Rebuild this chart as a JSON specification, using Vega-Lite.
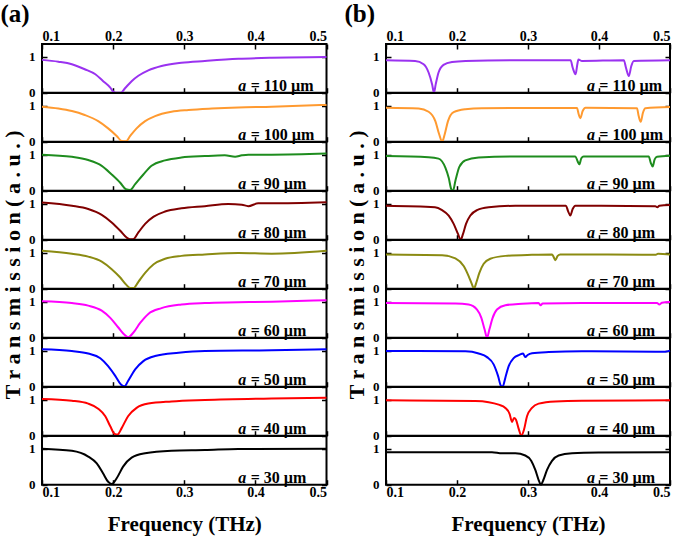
{
  "$schema": "https://vega.github.io/schema/vega-lite/v6.json",
  "padding": {"left": 0, "top": 2, "right": 0, "bottom": 2},
  "background": "white",
  "datasets": {
    "a110": [{"f":0.1,"t":0.91},{"f":0.123,"t":0.86},{"f":0.142,"t":0.79},{"f":0.16,"t":0.65},{"f":0.175,"t":0.51},{"f":0.186,"t":0.32},{"f":0.196,"t":0.14},{"f":0.2,"t":0.03},{"f":0.204,"t":0.0},{"f":0.211,"t":0.0},{"f":0.217,"t":0.13},{"f":0.226,"t":0.32},{"f":0.2355,"t":0.47},{"f":0.2495,"t":0.62},{"f":0.268,"t":0.74},{"f":0.296,"t":0.83},{"f":0.329,"t":0.88},{"f":0.376,"t":0.94},{"f":0.423,"t":0.97},{"f":0.5,"t":0.99}],
    "a100": [{"f":0.1,"t":0.97},{"f":0.123,"t":0.92},{"f":0.142,"t":0.85},{"f":0.16,"t":0.74},{"f":0.179,"t":0.57},{"f":0.193,"t":0.37},{"f":0.205,"t":0.16},{"f":0.212,"t":0.02},{"f":0.218,"t":0.01},{"f":0.224,"t":0.16},{"f":0.233,"t":0.37},{"f":0.245,"t":0.57},{"f":0.259,"t":0.71},{"f":0.282,"t":0.83},{"f":0.306,"t":0.88},{"f":0.339,"t":0.92},{"f":0.376,"t":0.95},{"f":0.423,"t":0.97},{"f":0.5,"t":1.02}],
    "a90": [{"f":0.1,"t":1.0},{"f":0.142,"t":0.94},{"f":0.165,"t":0.85},{"f":0.184,"t":0.69},{"f":0.198,"t":0.45},{"f":0.21,"t":0.22},{"f":0.218,"t":0.04},{"f":0.224,"t":0.02},{"f":0.231,"t":0.18},{"f":0.2425,"t":0.45},{"f":0.254,"t":0.69},{"f":0.273,"t":0.84},{"f":0.296,"t":0.92},{"f":0.329,"t":0.96},{"f":0.357,"t":0.98},{"f":0.3715,"t":0.94},{"f":0.381,"t":0.98},{"f":0.39,"t":1.0},{"f":0.423,"t":1.0},{"f":0.5,"t":1.03}],
    "a80": [{"f":0.1,"t":1.03},{"f":0.142,"t":0.94},{"f":0.165,"t":0.85},{"f":0.184,"t":0.69},{"f":0.198,"t":0.48},{"f":0.21,"t":0.25},{"f":0.219,"t":0.06},{"f":0.224,"t":0.01},{"f":0.228,"t":0.01},{"f":0.2355,"t":0.2},{"f":0.245,"t":0.44},{"f":0.257,"t":0.64},{"f":0.273,"t":0.78},{"f":0.296,"t":0.87},{"f":0.329,"t":0.93},{"f":0.362,"t":0.99},{"f":0.381,"t":0.97},{"f":0.39,"t":0.93},{"f":0.404,"t":1.01},{"f":0.423,"t":1.01},{"f":0.5,"t":1.04}],
    "a70": [{"f":0.1,"t":1.05},{"f":0.142,"t":0.97},{"f":0.165,"t":0.89},{"f":0.184,"t":0.75},{"f":0.198,"t":0.54},{"f":0.21,"t":0.31},{"f":0.218,"t":0.12},{"f":0.224,"t":0.02},{"f":0.229,"t":0.02},{"f":0.2355,"t":0.19},{"f":0.245,"t":0.44},{"f":0.257,"t":0.68},{"f":0.273,"t":0.83},{"f":0.296,"t":0.91},{"f":0.329,"t":0.95},{"f":0.376,"t":0.99},{"f":0.423,"t":0.97},{"f":0.5,"t":1.05}],
    "a60": [{"f":0.1,"t":1.01},{"f":0.142,"t":0.96},{"f":0.165,"t":0.89},{"f":0.184,"t":0.75},{"f":0.196,"t":0.55},{"f":0.207,"t":0.29},{"f":0.216,"t":0.08},{"f":0.221,"t":0.01},{"f":0.228,"t":0.13},{"f":0.238,"t":0.41},{"f":0.2495,"t":0.66},{"f":0.268,"t":0.82},{"f":0.296,"t":0.92},{"f":0.329,"t":0.96},{"f":0.376,"t":0.98},{"f":0.423,"t":1.0},{"f":0.5,"t":1.04}],
    "a50": [{"f":0.1,"t":1.04},{"f":0.142,"t":0.99},{"f":0.165,"t":0.92},{"f":0.182,"t":0.79},{"f":0.193,"t":0.57},{"f":0.203,"t":0.3},{"f":0.211,"t":0.06},{"f":0.216,"t":0.01},{"f":0.221,"t":0.16},{"f":0.231,"t":0.48},{"f":0.2425,"t":0.71},{"f":0.259,"t":0.85},{"f":0.292,"t":0.94},{"f":0.329,"t":0.99},{"f":0.423,"t":1.01},{"f":0.5,"t":1.04}],
    "a40": [{"f":0.1,"t":1.02},{"f":0.142,"t":0.97},{"f":0.165,"t":0.89},{"f":0.179,"t":0.75},{"f":0.189,"t":0.54},{"f":0.196,"t":0.26},{"f":0.202,"t":0.05},{"f":0.206,"t":0.03},{"f":0.212,"t":0.21},{"f":0.221,"t":0.54},{"f":0.233,"t":0.77},{"f":0.2495,"t":0.89},{"f":0.282,"t":0.95},{"f":0.329,"t":0.99},{"f":0.423,"t":1.03},{"f":0.5,"t":1.05}],
    "a30": [{"f":0.1,"t":1.0},{"f":0.142,"t":0.94},{"f":0.165,"t":0.78},{"f":0.177,"t":0.59},{"f":0.186,"t":0.31},{"f":0.193,"t":0.08},{"f":0.198,"t":0.02},{"f":0.205,"t":0.18},{"f":0.214,"t":0.5},{"f":0.226,"t":0.75},{"f":0.245,"t":0.87},{"f":0.282,"t":0.94},{"f":0.329,"t":0.96},{"f":0.376,"t":0.99},{"f":0.5,"t":1.0}],
    "b110": [{"f":0.1,"t":0.9},{"f":0.141,"t":0.88},{"f":0.153,"t":0.79},{"f":0.16,"t":0.56},{"f":0.165,"t":0.23},{"f":0.1676,"t":0.0},{"f":0.17,"t":0.23},{"f":0.174,"t":0.56},{"f":0.181,"t":0.77},{"f":0.193,"t":0.85},{"f":0.212,"t":0.88},{"f":0.282,"t":0.9},{"f":0.36,"t":0.9},{"f":0.363,"t":0.69},{"f":0.367,"t":0.51},{"f":0.3695,"t":0.79},{"f":0.371,"t":0.92},{"f":0.376,"t":0.88},{"f":0.435,"t":0.9},{"f":0.438,"t":0.69},{"f":0.442,"t":0.46},{"f":0.4455,"t":0.74},{"f":0.449,"t":0.88},{"f":0.5,"t":0.9}],
    "b100": [{"f":0.1,"t":0.94},{"f":0.146,"t":0.92},{"f":0.16,"t":0.83},{"f":0.1695,"t":0.57},{"f":0.175,"t":0.2},{"f":0.179,"t":0.0},{"f":0.1826,"t":0.2},{"f":0.1873,"t":0.57},{"f":0.1953,"t":0.82},{"f":0.2117,"t":0.9},{"f":0.235,"t":0.93},{"f":0.369,"t":0.935},{"f":0.3714,"t":0.76},{"f":0.3737,"t":0.65},{"f":0.377,"t":0.85},{"f":0.381,"t":0.94},{"f":0.4535,"t":0.93},{"f":0.4559,"t":0.71},{"f":0.4587,"t":0.55},{"f":0.462,"t":0.81},{"f":0.4653,"t":0.93},{"f":0.5,"t":0.96}],
    "b90": [{"f":0.1,"t":0.96},{"f":0.16,"t":0.93},{"f":0.174,"t":0.89},{"f":0.1836,"t":0.64},{"f":0.1883,"t":0.36},{"f":0.192,"t":0.04},{"f":0.1944,"t":0.0},{"f":0.1977,"t":0.27},{"f":0.2033,"t":0.66},{"f":0.2117,"t":0.84},{"f":0.2305,"t":0.92},{"f":0.282,"t":0.95},{"f":0.3667,"t":0.95},{"f":0.37,"t":0.81},{"f":0.3723,"t":0.73},{"f":0.3751,"t":0.9},{"f":0.3784,"t":0.95},{"f":0.47,"t":0.95},{"f":0.4728,"t":0.78},{"f":0.4756,"t":0.67},{"f":0.4784,"t":0.87},{"f":0.4817,"t":0.94},{"f":0.5,"t":0.97}],
    "b80": [{"f":0.1,"t":0.94},{"f":0.169,"t":0.9},{"f":0.179,"t":0.82},{"f":0.1883,"t":0.67},{"f":0.1953,"t":0.44},{"f":0.2014,"t":0.16},{"f":0.2052,"t":0.0},{"f":0.2085,"t":0.16},{"f":0.2127,"t":0.44},{"f":0.2188,"t":0.67},{"f":0.2282,"t":0.82},{"f":0.2446,"t":0.9},{"f":0.282,"t":0.94},{"f":0.3535,"t":0.94},{"f":0.3563,"t":0.8},{"f":0.3596,"t":0.67},{"f":0.3629,"t":0.85},{"f":0.3667,"t":0.94},{"f":0.4793,"t":0.93},{"f":0.4822,"t":0.9},{"f":0.485,"t":0.94},{"f":0.5,"t":0.96}],
    "b70": [{"f":0.1,"t":0.95},{"f":0.179,"t":0.93},{"f":0.1977,"t":0.84},{"f":0.2094,"t":0.63},{"f":0.2164,"t":0.35},{"f":0.2211,"t":0.12},{"f":0.2239,"t":0.0},{"f":0.2272,"t":0.17},{"f":0.2315,"t":0.44},{"f":0.2376,"t":0.69},{"f":0.2469,"t":0.83},{"f":0.2681,"t":0.91},{"f":0.3056,"t":0.94},{"f":0.3338,"t":0.95},{"f":0.3361,"t":0.88},{"f":0.3385,"t":0.79},{"f":0.3418,"t":0.91},{"f":0.3455,"t":0.95},{"f":0.48,"t":0.94},{"f":0.4831,"t":0.97},{"f":0.5,"t":0.95}],
    "b60": [{"f":0.1,"t":0.96},{"f":0.198,"t":0.95},{"f":0.2164,"t":0.92},{"f":0.2282,"t":0.78},{"f":0.2343,"t":0.55},{"f":0.239,"t":0.22},{"f":0.2423,"t":0.0},{"f":0.2455,"t":0.22},{"f":0.2502,"t":0.55},{"f":0.2563,"t":0.78},{"f":0.2681,"t":0.9},{"f":0.2915,"t":0.94},{"f":0.315,"t":0.96},{"f":0.3178,"t":0.9},{"f":0.3206,"t":0.95},{"f":0.376,"t":0.96},{"f":0.4817,"t":0.96},{"f":0.485,"t":0.92},{"f":0.4887,"t":0.97},{"f":0.5,"t":0.99}],
    "b50": [{"f":0.1,"t":0.99},{"f":0.212,"t":0.98},{"f":0.2305,"t":0.92},{"f":0.2423,"t":0.82},{"f":0.2516,"t":0.62},{"f":0.2578,"t":0.3},{"f":0.262,"t":0.02},{"f":0.2643,"t":0.0},{"f":0.2681,"t":0.25},{"f":0.2728,"t":0.57},{"f":0.2798,"t":0.79},{"f":0.2878,"t":0.88},{"f":0.293,"t":0.92},{"f":0.2962,"t":0.82},{"f":0.2995,"t":0.88},{"f":0.3056,"t":0.93},{"f":0.3291,"t":0.96},{"f":0.376,"t":0.98},{"f":0.4934,"t":0.97},{"f":0.5,"t":1.0}],
    "b40": [{"f":0.1,"t":0.98},{"f":0.2258,"t":0.96},{"f":0.2446,"t":0.93},{"f":0.2587,"t":0.86},{"f":0.2681,"t":0.77},{"f":0.2742,"t":0.6},{"f":0.2775,"t":0.38},{"f":0.2803,"t":0.49},{"f":0.2831,"t":0.44},{"f":0.2869,"t":0.19},{"f":0.2906,"t":0.0},{"f":0.2944,"t":0.17},{"f":0.2986,"t":0.54},{"f":0.3056,"t":0.77},{"f":0.315,"t":0.89},{"f":0.3385,"t":0.95},{"f":0.376,"t":0.97},{"f":0.5,"t":0.98}],
    "b30": [{"f":0.1,"t":0.9},{"f":0.2493,"t":0.9},{"f":0.2634,"t":0.87},{"f":0.2822,"t":0.87},{"f":0.2962,"t":0.81},{"f":0.3047,"t":0.66},{"f":0.3103,"t":0.41},{"f":0.315,"t":0.13},{"f":0.3183,"t":0.0},{"f":0.3216,"t":0.13},{"f":0.3268,"t":0.41},{"f":0.3338,"t":0.66},{"f":0.3432,"t":0.81},{"f":0.362,"t":0.87},{"f":0.3995,"t":0.89},{"f":0.5,"t":0.9}]
  },
  "spacing": 12,
  "hconcat": [
    {
      "title": {"text": "(a)", "anchor": "start", "fontSize": 25, "font": "Liberation Serif", "fontWeight": "bold", "color": "black", "offset": 1},
      "spacing": 0,
      "bounds": "flush",
      "vconcat": [
        {"width": 284.5, "height": 48.7, "layer": [
          {"data": {"name": "a110"}, "mark": {"type": "line", "color": "#9a32f0"}, "encoding": {"x": {"field": "f", "type": "quantitative", "scale": {"domain": [0.1, 0.5], "nice": false, "zero": false}, "axis": {"orient": "bottom", "title": null}}, "y": {"field": "t", "type": "quantitative", "scale": {"domain": [0, 1.35], "nice": false}, "axis": {"orient": "left", "title": null}}}},
          {"layer": [
            {"data": {"values": [{"s": "a"}]}, "mark": {"type": "text", "fontStyle": "italic"}, "encoding": {"x": {"datum": 0.376, "type": "quantitative", "axis": {"orient": "top", "labels": true, "title": null}}, "y": {"datum": 0.04, "type": "quantitative", "axis": {"orient": "right", "labels": false, "title": null}}, "text": {"field": "s"}}},
            {"data": {"values": [{"s": "= 110 µm"}]}, "mark": "text", "encoding": {"x": {"datum": 0.3935, "type": "quantitative"}, "y": {"datum": 0.04, "type": "quantitative"}, "text": {"field": "s"}}}
          ]}
        ]},
        {"width": 284.5, "height": 48.7, "layer": [
          {"data": {"name": "a100"}, "mark": {"type": "line", "color": "#ff9a30"}, "encoding": {"x": {"field": "f", "type": "quantitative", "scale": {"domain": [0.1, 0.5], "nice": false, "zero": false}, "title": null}, "y": {"field": "t", "type": "quantitative", "scale": {"domain": [0, 1.35], "nice": false}, "axis": {"orient": "left", "title": null}}}},
          {"layer": [
            {"data": {"values": [{"s": "a"}]}, "mark": {"type": "text", "fontStyle": "italic"}, "encoding": {"x": {"datum": 0.376, "type": "quantitative"}, "y": {"datum": 0.04, "type": "quantitative", "axis": {"orient": "right", "labels": false, "title": null}}, "text": {"field": "s"}}},
            {"data": {"values": [{"s": "= 100 µm"}]}, "mark": "text", "encoding": {"x": {"datum": 0.3935, "type": "quantitative"}, "y": {"datum": 0.04, "type": "quantitative"}, "text": {"field": "s"}}}
          ]}
        ]},
        {"width": 284.5, "height": 48.7, "layer": [
          {"data": {"name": "a90"}, "mark": {"type": "line", "color": "#1e8c1e"}, "encoding": {"x": {"field": "f", "type": "quantitative", "scale": {"domain": [0.1, 0.5], "nice": false, "zero": false}, "title": null}, "y": {"field": "t", "type": "quantitative", "scale": {"domain": [0, 1.35], "nice": false}, "axis": {"orient": "left", "title": null}}}},
          {"layer": [
            {"data": {"values": [{"s": "a"}]}, "mark": {"type": "text", "fontStyle": "italic"}, "encoding": {"x": {"datum": 0.376, "type": "quantitative"}, "y": {"datum": 0.04, "type": "quantitative", "axis": {"orient": "right", "labels": false, "title": null}}, "text": {"field": "s"}}},
            {"data": {"values": [{"s": "= 90 µm"}]}, "mark": "text", "encoding": {"x": {"datum": 0.3935, "type": "quantitative"}, "y": {"datum": 0.04, "type": "quantitative"}, "text": {"field": "s"}}}
          ]}
        ]},
        {"width": 284.5, "height": 48.7, "layer": [
          {"data": {"name": "a80"}, "mark": {"type": "line", "color": "#800000"}, "encoding": {"x": {"field": "f", "type": "quantitative", "scale": {"domain": [0.1, 0.5], "nice": false, "zero": false}, "title": null}, "y": {"field": "t", "type": "quantitative", "scale": {"domain": [0, 1.35], "nice": false}, "axis": {"orient": "left", "title": null}}}},
          {"layer": [
            {"data": {"values": [{"s": "a"}]}, "mark": {"type": "text", "fontStyle": "italic"}, "encoding": {"x": {"datum": 0.376, "type": "quantitative"}, "y": {"datum": 0.04, "type": "quantitative", "axis": {"orient": "right", "labels": false, "title": null}}, "text": {"field": "s"}}},
            {"data": {"values": [{"s": "= 80 µm"}]}, "mark": "text", "encoding": {"x": {"datum": 0.3935, "type": "quantitative"}, "y": {"datum": 0.04, "type": "quantitative"}, "text": {"field": "s"}}}
          ]}
        ]},
        {"width": 284.5, "height": 48.7, "layer": [
          {"data": {"name": "a70"}, "mark": {"type": "line", "color": "#8b8b12"}, "encoding": {"x": {"field": "f", "type": "quantitative", "scale": {"domain": [0.1, 0.5], "nice": false, "zero": false}, "title": null}, "y": {"field": "t", "type": "quantitative", "scale": {"domain": [0, 1.35], "nice": false}, "axis": {"orient": "left", "title": "T r a n s m i s s i o n  ( a . u . )", "titlePadding": 4, "titleFontSize": 22}}}},
          {"layer": [
            {"data": {"values": [{"s": "a"}]}, "mark": {"type": "text", "fontStyle": "italic"}, "encoding": {"x": {"datum": 0.376, "type": "quantitative"}, "y": {"datum": 0.04, "type": "quantitative", "axis": {"orient": "right", "labels": false, "title": null}}, "text": {"field": "s"}}},
            {"data": {"values": [{"s": "= 70 µm"}]}, "mark": "text", "encoding": {"x": {"datum": 0.3935, "type": "quantitative"}, "y": {"datum": 0.04, "type": "quantitative"}, "text": {"field": "s"}}}
          ]}
        ]},
        {"width": 284.5, "height": 48.7, "layer": [
          {"data": {"name": "a60"}, "mark": {"type": "line", "color": "#ff00ff"}, "encoding": {"x": {"field": "f", "type": "quantitative", "scale": {"domain": [0.1, 0.5], "nice": false, "zero": false}, "title": null}, "y": {"field": "t", "type": "quantitative", "scale": {"domain": [0, 1.35], "nice": false}, "axis": {"orient": "left", "title": null}}}},
          {"layer": [
            {"data": {"values": [{"s": "a"}]}, "mark": {"type": "text", "fontStyle": "italic"}, "encoding": {"x": {"datum": 0.376, "type": "quantitative"}, "y": {"datum": 0.04, "type": "quantitative", "axis": {"orient": "right", "labels": false, "title": null}}, "text": {"field": "s"}}},
            {"data": {"values": [{"s": "= 60 µm"}]}, "mark": "text", "encoding": {"x": {"datum": 0.3935, "type": "quantitative"}, "y": {"datum": 0.04, "type": "quantitative"}, "text": {"field": "s"}}}
          ]}
        ]},
        {"width": 284.5, "height": 48.7, "layer": [
          {"data": {"name": "a50"}, "mark": {"type": "line", "color": "#0000ff"}, "encoding": {"x": {"field": "f", "type": "quantitative", "scale": {"domain": [0.1, 0.5], "nice": false, "zero": false}, "title": null}, "y": {"field": "t", "type": "quantitative", "scale": {"domain": [0, 1.35], "nice": false}, "axis": {"orient": "left", "title": null}}}},
          {"layer": [
            {"data": {"values": [{"s": "a"}]}, "mark": {"type": "text", "fontStyle": "italic"}, "encoding": {"x": {"datum": 0.376, "type": "quantitative"}, "y": {"datum": 0.04, "type": "quantitative", "axis": {"orient": "right", "labels": false, "title": null}}, "text": {"field": "s"}}},
            {"data": {"values": [{"s": "= 50 µm"}]}, "mark": "text", "encoding": {"x": {"datum": 0.3935, "type": "quantitative"}, "y": {"datum": 0.04, "type": "quantitative"}, "text": {"field": "s"}}}
          ]}
        ]},
        {"width": 284.5, "height": 48.7, "layer": [
          {"data": {"name": "a40"}, "mark": {"type": "line", "color": "#ff0000"}, "encoding": {"x": {"field": "f", "type": "quantitative", "scale": {"domain": [0.1, 0.5], "nice": false, "zero": false}, "title": null}, "y": {"field": "t", "type": "quantitative", "scale": {"domain": [0, 1.35], "nice": false}, "axis": {"orient": "left", "title": null}}}},
          {"layer": [
            {"data": {"values": [{"s": "a"}]}, "mark": {"type": "text", "fontStyle": "italic"}, "encoding": {"x": {"datum": 0.376, "type": "quantitative"}, "y": {"datum": 0.04, "type": "quantitative", "axis": {"orient": "right", "labels": false, "title": null}}, "text": {"field": "s"}}},
            {"data": {"values": [{"s": "= 40 µm"}]}, "mark": "text", "encoding": {"x": {"datum": 0.3935, "type": "quantitative"}, "y": {"datum": 0.04, "type": "quantitative"}, "text": {"field": "s"}}}
          ]}
        ]},
        {"width": 284.5, "height": 48.7, "layer": [
          {"data": {"name": "a30"}, "mark": {"type": "line", "color": "#000000"}, "encoding": {"x": {"field": "f", "type": "quantitative", "scale": {"domain": [0.1, 0.5], "nice": false, "zero": false}, "axis": {"labels": true, "title": "Frequency (THz)", "titlePadding": 14}}, "y": {"field": "t", "type": "quantitative", "scale": {"domain": [0, 1.35], "nice": false}, "axis": {"orient": "left", "title": null}}}},
          {"layer": [
            {"data": {"values": [{"s": "a"}]}, "mark": {"type": "text", "fontStyle": "italic"}, "encoding": {"x": {"datum": 0.376, "type": "quantitative"}, "y": {"datum": 0.04, "type": "quantitative", "axis": {"orient": "right", "labels": false, "title": null}}, "text": {"field": "s"}}},
            {"data": {"values": [{"s": "= 30 µm"}]}, "mark": "text", "encoding": {"x": {"datum": 0.3935, "type": "quantitative"}, "y": {"datum": 0.04, "type": "quantitative"}, "text": {"field": "s"}}}
          ]}
        ]}
      ]
    },
    {
      "title": {"text": "(b)", "anchor": "start", "fontSize": 25, "font": "Liberation Serif", "fontWeight": "bold", "color": "black", "offset": 1},
      "spacing": 0,
      "bounds": "flush",
      "vconcat": [
        {"width": 284, "height": 48.7, "layer": [
          {"data": {"name": "b110"}, "mark": {"type": "line", "color": "#9a32f0"}, "encoding": {"x": {"field": "f", "type": "quantitative", "scale": {"domain": [0.1, 0.5], "nice": false, "zero": false}, "axis": {"orient": "bottom", "title": null}}, "y": {"field": "t", "type": "quantitative", "scale": {"domain": [0, 1.35], "nice": false}, "axis": {"orient": "left", "title": null}}}},
          {"layer": [
            {"data": {"values": [{"s": "a"}]}, "mark": {"type": "text", "fontStyle": "italic"}, "encoding": {"x": {"datum": 0.383, "type": "quantitative", "axis": {"orient": "top", "labels": true, "title": null}}, "y": {"datum": 0.04, "type": "quantitative", "axis": {"orient": "right", "labels": false, "title": null}}, "text": {"field": "s"}}},
            {"data": {"values": [{"s": "= 110 µm"}]}, "mark": "text", "encoding": {"x": {"datum": 0.4005, "type": "quantitative"}, "y": {"datum": 0.04, "type": "quantitative"}, "text": {"field": "s"}}}
          ]}
        ]},
        {"width": 284, "height": 48.7, "layer": [
          {"data": {"name": "b100"}, "mark": {"type": "line", "color": "#ff9a30"}, "encoding": {"x": {"field": "f", "type": "quantitative", "scale": {"domain": [0.1, 0.5], "nice": false, "zero": false}, "title": null}, "y": {"field": "t", "type": "quantitative", "scale": {"domain": [0, 1.35], "nice": false}, "axis": {"orient": "left", "title": null}}}},
          {"layer": [
            {"data": {"values": [{"s": "a"}]}, "mark": {"type": "text", "fontStyle": "italic"}, "encoding": {"x": {"datum": 0.383, "type": "quantitative"}, "y": {"datum": 0.04, "type": "quantitative", "axis": {"orient": "right", "labels": false, "title": null}}, "text": {"field": "s"}}},
            {"data": {"values": [{"s": "= 100 µm"}]}, "mark": "text", "encoding": {"x": {"datum": 0.4005, "type": "quantitative"}, "y": {"datum": 0.04, "type": "quantitative"}, "text": {"field": "s"}}}
          ]}
        ]},
        {"width": 284, "height": 48.7, "layer": [
          {"data": {"name": "b90"}, "mark": {"type": "line", "color": "#1e8c1e"}, "encoding": {"x": {"field": "f", "type": "quantitative", "scale": {"domain": [0.1, 0.5], "nice": false, "zero": false}, "title": null}, "y": {"field": "t", "type": "quantitative", "scale": {"domain": [0, 1.35], "nice": false}, "axis": {"orient": "left", "title": null}}}},
          {"layer": [
            {"data": {"values": [{"s": "a"}]}, "mark": {"type": "text", "fontStyle": "italic"}, "encoding": {"x": {"datum": 0.383, "type": "quantitative"}, "y": {"datum": 0.04, "type": "quantitative", "axis": {"orient": "right", "labels": false, "title": null}}, "text": {"field": "s"}}},
            {"data": {"values": [{"s": "= 90 µm"}]}, "mark": "text", "encoding": {"x": {"datum": 0.4005, "type": "quantitative"}, "y": {"datum": 0.04, "type": "quantitative"}, "text": {"field": "s"}}}
          ]}
        ]},
        {"width": 284, "height": 48.7, "layer": [
          {"data": {"name": "b80"}, "mark": {"type": "line", "color": "#800000"}, "encoding": {"x": {"field": "f", "type": "quantitative", "scale": {"domain": [0.1, 0.5], "nice": false, "zero": false}, "title": null}, "y": {"field": "t", "type": "quantitative", "scale": {"domain": [0, 1.35], "nice": false}, "axis": {"orient": "left", "title": null}}}},
          {"layer": [
            {"data": {"values": [{"s": "a"}]}, "mark": {"type": "text", "fontStyle": "italic"}, "encoding": {"x": {"datum": 0.383, "type": "quantitative"}, "y": {"datum": 0.04, "type": "quantitative", "axis": {"orient": "right", "labels": false, "title": null}}, "text": {"field": "s"}}},
            {"data": {"values": [{"s": "= 80 µm"}]}, "mark": "text", "encoding": {"x": {"datum": 0.4005, "type": "quantitative"}, "y": {"datum": 0.04, "type": "quantitative"}, "text": {"field": "s"}}}
          ]}
        ]},
        {"width": 284, "height": 48.7, "layer": [
          {"data": {"name": "b70"}, "mark": {"type": "line", "color": "#8b8b12"}, "encoding": {"x": {"field": "f", "type": "quantitative", "scale": {"domain": [0.1, 0.5], "nice": false, "zero": false}, "title": null}, "y": {"field": "t", "type": "quantitative", "scale": {"domain": [0, 1.35], "nice": false}, "axis": {"orient": "left", "title": "T r a n s m i s s i o n  ( a . u . )", "titlePadding": 4, "titleFontSize": 22}}}},
          {"layer": [
            {"data": {"values": [{"s": "a"}]}, "mark": {"type": "text", "fontStyle": "italic"}, "encoding": {"x": {"datum": 0.383, "type": "quantitative"}, "y": {"datum": 0.04, "type": "quantitative", "axis": {"orient": "right", "labels": false, "title": null}}, "text": {"field": "s"}}},
            {"data": {"values": [{"s": "= 70 µm"}]}, "mark": "text", "encoding": {"x": {"datum": 0.4005, "type": "quantitative"}, "y": {"datum": 0.04, "type": "quantitative"}, "text": {"field": "s"}}}
          ]}
        ]},
        {"width": 284, "height": 48.7, "layer": [
          {"data": {"name": "b60"}, "mark": {"type": "line", "color": "#ff00ff"}, "encoding": {"x": {"field": "f", "type": "quantitative", "scale": {"domain": [0.1, 0.5], "nice": false, "zero": false}, "title": null}, "y": {"field": "t", "type": "quantitative", "scale": {"domain": [0, 1.35], "nice": false}, "axis": {"orient": "left", "title": null}}}},
          {"layer": [
            {"data": {"values": [{"s": "a"}]}, "mark": {"type": "text", "fontStyle": "italic"}, "encoding": {"x": {"datum": 0.383, "type": "quantitative"}, "y": {"datum": 0.04, "type": "quantitative", "axis": {"orient": "right", "labels": false, "title": null}}, "text": {"field": "s"}}},
            {"data": {"values": [{"s": "= 60 µm"}]}, "mark": "text", "encoding": {"x": {"datum": 0.4005, "type": "quantitative"}, "y": {"datum": 0.04, "type": "quantitative"}, "text": {"field": "s"}}}
          ]}
        ]},
        {"width": 284, "height": 48.7, "layer": [
          {"data": {"name": "b50"}, "mark": {"type": "line", "color": "#0000ff"}, "encoding": {"x": {"field": "f", "type": "quantitative", "scale": {"domain": [0.1, 0.5], "nice": false, "zero": false}, "axis": {"title": null, "values": [0.1, 0.15, 0.2, 0.25, 0.3, 0.35, 0.4, 0.45, 0.5], "tickSize": {"condition": {"test": "abs(datum.value * 10 - round(datum.value * 10)) > 0.01", "value": -3}, "value": -5}}}, "y": {"field": "t", "type": "quantitative", "scale": {"domain": [0, 1.35], "nice": false}, "axis": {"orient": "left", "title": null}}}},
          {"layer": [
            {"data": {"values": [{"s": "a"}]}, "mark": {"type": "text", "fontStyle": "italic"}, "encoding": {"x": {"datum": 0.383, "type": "quantitative"}, "y": {"datum": 0.04, "type": "quantitative", "axis": {"orient": "right", "labels": false, "title": null}}, "text": {"field": "s"}}},
            {"data": {"values": [{"s": "= 50 µm"}]}, "mark": "text", "encoding": {"x": {"datum": 0.4005, "type": "quantitative"}, "y": {"datum": 0.04, "type": "quantitative"}, "text": {"field": "s"}}}
          ]}
        ]},
        {"width": 284, "height": 48.7, "layer": [
          {"data": {"name": "b40"}, "mark": {"type": "line", "color": "#ff0000"}, "encoding": {"x": {"field": "f", "type": "quantitative", "scale": {"domain": [0.1, 0.5], "nice": false, "zero": false}, "axis": {"title": null, "values": [0.1, 0.15, 0.2, 0.25, 0.3, 0.35, 0.4, 0.45, 0.5], "tickSize": {"condition": {"test": "abs(datum.value * 10 - round(datum.value * 10)) > 0.01", "value": -3}, "value": -5}}}, "y": {"field": "t", "type": "quantitative", "scale": {"domain": [0, 1.35], "nice": false}, "axis": {"orient": "left", "title": null}}}},
          {"layer": [
            {"data": {"values": [{"s": "a"}]}, "mark": {"type": "text", "fontStyle": "italic"}, "encoding": {"x": {"datum": 0.383, "type": "quantitative"}, "y": {"datum": 0.04, "type": "quantitative", "axis": {"orient": "right", "labels": false, "title": null}}, "text": {"field": "s"}}},
            {"data": {"values": [{"s": "= 40 µm"}]}, "mark": "text", "encoding": {"x": {"datum": 0.4005, "type": "quantitative"}, "y": {"datum": 0.04, "type": "quantitative"}, "text": {"field": "s"}}}
          ]}
        ]},
        {"width": 284, "height": 48.7, "layer": [
          {"data": {"name": "b30"}, "mark": {"type": "line", "color": "#000000"}, "encoding": {"x": {"field": "f", "type": "quantitative", "scale": {"domain": [0.1, 0.5], "nice": false, "zero": false}, "axis": {"labels": true, "title": "Frequency (THz)", "titlePadding": 14}}, "y": {"field": "t", "type": "quantitative", "scale": {"domain": [0, 1.35], "nice": false}, "axis": {"orient": "left", "title": null}}}},
          {"layer": [
            {"data": {"values": [{"s": "a"}]}, "mark": {"type": "text", "fontStyle": "italic"}, "encoding": {"x": {"datum": 0.383, "type": "quantitative"}, "y": {"datum": 0.04, "type": "quantitative", "axis": {"orient": "right", "labels": false, "title": null}}, "text": {"field": "s"}}},
            {"data": {"values": [{"s": "= 30 µm"}]}, "mark": "text", "encoding": {"x": {"datum": 0.4005, "type": "quantitative"}, "y": {"datum": 0.04, "type": "quantitative"}, "text": {"field": "s"}}}
          ]}
        ]}
      ]
    }
  ],
  "config": {
    "view": {"stroke": "black", "strokeWidth": 2},
    "line": {"strokeWidth": 2, "interpolate": "monotone"},
    "text": {"font": "Liberation Serif", "fontSize": 16, "fontWeight": "bold", "align": "left", "baseline": "alphabetic", "color": "black"},
    "axis": {"domain": false, "grid": false, "labelFont": "Liberation Serif", "labelFontWeight": "bold", "labelColor": "black", "labelFontSize": 14, "tickColor": "black", "tickWidth": 1.5, "titleFont": "Liberation Serif", "titleFontWeight": "bold", "titleColor": "black", "titleFontSize": 21},
    "axisX": {"tickCount": 4, "tickSize": -5, "labels": false, "labelPadding": 6},
    "axisY": {"tickCount": 1, "tickSize": -5, "labelFontSize": 13, "labelPadding": 12}
  }
}
